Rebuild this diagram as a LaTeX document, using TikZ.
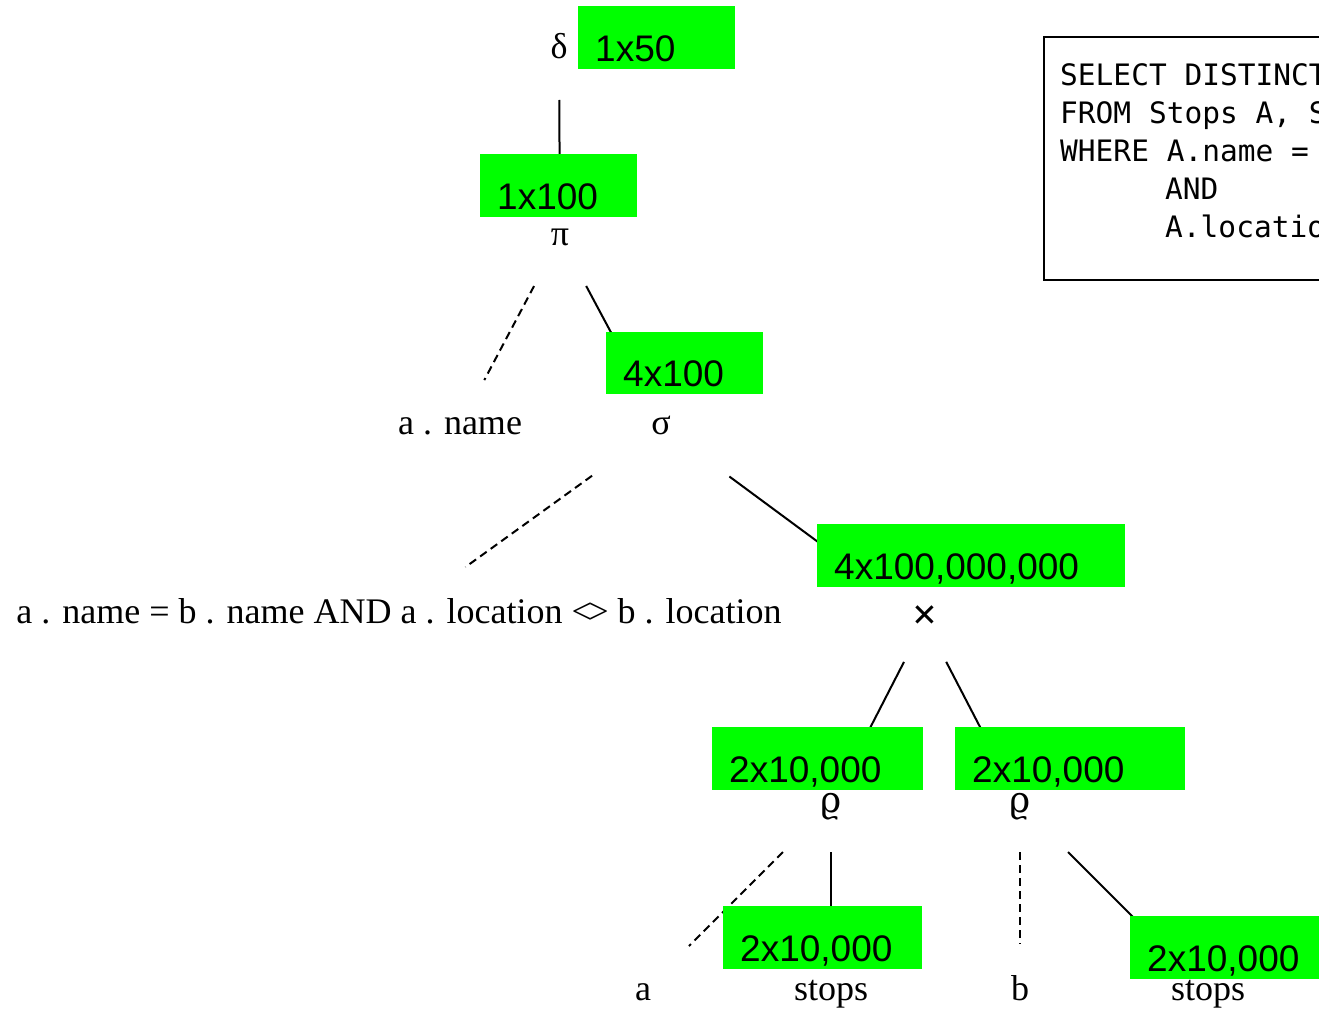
\documentclass[tikz,border=0pt]{standalone}
\usepackage{fontspec}
\setmainfont{Liberation Serif}
\newfontfamily\cntfont{Liberation Sans}
\newfontfamily\sqlfont{DejaVu Sans Mono}
\newfontfamily\grkfont{DejaVu Serif}
\usetikzlibrary{calc}
\definecolor{cardgreen}{HTML}{00FF00}

\begin{document}
\begin{tikzpicture}[x=1pt,y=-1pt,
  op/.style={inner sep=0pt, text height=24pt, text depth=8pt,
             font=\fontsize{36}{40}\selectfont},
  tree/.style={line width=2pt, black},
  dtree/.style={tree, dash pattern=on 8pt off 5pt},
  card/.style={fill=cardgreen, inner sep=0pt, anchor=north west},
  cardtxt/.style={inner sep=0pt, anchor=base west,
                  font=\cntfont\fontsize{37}{40}\selectfont},
  sqlline/.style={inner sep=0pt, anchor=base west,
                  font=\sqlfont\fontsize{29.5}{36}\selectfont}]
\useasboundingbox (0,0) rectangle (1319,1009);
\clip (0,0) rectangle (1319,1009);

% operators and leaves of the query tree
\node[op] (delta) at (559,50)  {δ};
\node[op] (pi)    at (560,237) {π};
\node[op] (aname) at (460,426) {a . name};
\node[op] (sigma) at (661,426) {σ};
\node[op] (cond)  at (399,615) {a . name = b . name AND a . location <\kern-0.1em> b . location};
\node[op] (cross) at (925,621) {\fontsize{44}{44}\selectfont\bfseries ×};
\node[op] (rhoL)  at (831,804) {\grkfont ϱ};
\node[op] (rhoR)  at (1020,804) {\grkfont ϱ};
\node[op] (leafa) at (643,992) {a};
\node[op] (stopL) at (831,992) {stops};
\node[op] (leafb) at (1020,992) {b};
\node[op] (stopR) at (1208,992) {stops};

% tree edges
\draw[tree, shorten <=50pt, shorten >=55pt] (delta.center) -- (pi.center);
\draw[dtree, shorten <=55.5pt, shorten >=52pt] (pi.center) -- (aname.center);
\draw[tree, shorten <=55.5pt, shorten >=90pt] (pi.center) -- (sigma.center);
\draw[dtree, shorten <=85pt, shorten >=82pt] (sigma.center) -- (cond.center);
\draw[tree, shorten <=85pt, shorten >=115pt] (sigma.center) -- (cross.center);
\draw[tree, shorten <=46pt, shorten >=75pt] (cross.center) -- (rhoL.center);
\draw[tree, shorten <=46pt, shorten >=75pt] (cross.center) -- (rhoR.center);
\draw[dtree, shorten <=68pt, shorten >=65pt] (rhoL.center) -- (leafa.center);
\draw[tree, shorten <=48pt, shorten >=75pt] (rhoL.center) -- (stopL.center);
\draw[dtree, shorten <=48pt, shorten >=48pt] (rhoR.center) -- (leafb.center);
\draw[tree, shorten <=68pt, shorten >=90pt] (rhoR.center) -- (stopR.center);

% cardinality tags
\node[card, minimum width=157pt, minimum height=63pt] (c1) at (578,6) {};
\node[card, minimum width=157pt, minimum height=63pt] (c2) at (480,154) {};
\node[card, minimum width=157pt, minimum height=62pt] (c3) at (606,332) {};
\node[card, minimum width=308pt, minimum height=63pt] (c4) at (817,524) {};
\node[card, minimum width=211pt, minimum height=63pt] (c5) at (712,727) {};
\node[card, minimum width=230pt, minimum height=63pt] (c6) at (955,727) {};
\node[card, minimum width=199pt, minimum height=63pt] (c7) at (723,906) {};
\node[card, minimum width=200pt, minimum height=63pt] (c8) at (1130,916) {};
\node[cardtxt] (c1t) at ($(c1.south west)+(17,-8)$) {1x50};
\node[cardtxt] (c2t) at ($(c2.south west)+(17,-8)$) {1x100};
\node[cardtxt] (c3t) at ($(c3.south west)+(17,-8)$) {4x100};
\node[cardtxt] (c4t) at ($(c4.south west)+(17,-8)$) {4x100,000,000};
\node[cardtxt] (c5t) at ($(c5.south west)+(17,-8)$) {2x10,000};
\node[cardtxt] (c6t) at ($(c6.south west)+(17,-8)$) {2x10,000};
\node[cardtxt] (c7t) at ($(c7.south west)+(17,-8)$) {2x10,000};
\node[cardtxt] (c8t) at ($(c8.south west)+(17,-8)$) {2x10,000};

% SQL query panel
\node[draw, line width=1.5pt, anchor=north west, inner sep=0pt,
      minimum width=330pt, minimum height=243pt] (sqlbox) at (1043,36) {};
\node[sqlline] (q1) at (1060,85)  {SELECT DISTINCT};
\node[sqlline] (q2) at (1060,123) {FROM Stops A, S};
\node[sqlline] (q3) at (1060,161) {WHERE A.name =};
\node[sqlline] (q4) at (1165,199) {AND};
\node[sqlline] (q5) at (1165,237) {A.locatio};
\end{tikzpicture}
\end{document}
